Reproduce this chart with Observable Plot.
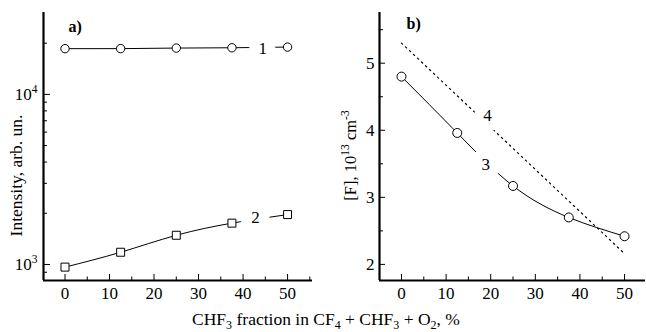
<!DOCTYPE html>
<html><head><meta charset="utf-8">
<script src="https://cdn.jsdelivr.net/npm/d3@7"></script>
<script src="https://cdn.jsdelivr.net/npm/@observablehq/plot@0.6"></script>
<style>
body{margin:0;background:#fff;}
#wrap{position:relative;width:646px;height:332px;font-family:"Liberation Serif",serif;color:#000;}
#wrap svg, #wrap svg text{font-family:"Liberation Serif",serif !important;font-variant-numeric:normal !important;}
#a{position:absolute;left:0;top:0}
#b{position:absolute;left:323px;top:0}
#cap{position:absolute;left:3px;top:311px;width:646px;text-align:center;font-size:17.5px;line-height:17px;white-space:nowrap;}
#cap sub{font-size:12px;vertical-align:-4px;line-height:0;}
</style></head>
<body><div id="wrap"><div id="a"></div><div id="b"></div>
<div id="cap">CHF<sub>3</sub> fraction in CF<sub>4</sub> + CHF<sub>3</sub> + O<sub>2</sub>, %</div></div>
<script>
// ---- data ----
const fraction = [0, 12.5, 25, 37.5, 50];
const intensity1 = [18570, 18580, 18720, 18800, 18970];
const intensity2 = [965, 1180, 1485, 1750, 1965];
const fluorine3 = [4.80, 3.96, 3.17, 2.70, 2.42];
const line4X = [0, 50];
const line4Y = [5.30, 2.16];

const xMajor = [0, 10, 20, 30, 40, 50];
const xMinor = [5, 15, 25, 35, 45, 55];
const yMajorA = [1000, 10000];
const yMajorALabels = ["10^{3}", "10^{4}"];
const yMinorA = [900, 2000, 3000, 4000, 5000, 6000, 7000, 8000, 9000, 20000];
const yMajorB = [2, 3, 4, 5];
const yMinorB = [2.5, 3.5, 4.5, 5.5];

const labelsA = [{t: "1", x: 44.4, y: 18650}, {t: "2", x: 42.8, y: 1888}];
const labelsB = [{t: "4", x: 19.3, y: 4.22}, {t: "3", x: 18.9, y: 3.49}];

const yTitleA = "Intensity, arb. un.";
const yTitleB = "[F], 10^{13} cm^{-3}";

const rows = (xs, ys) => xs.map((x, i) => ({x, y: ys[i]}));
const s1 = rows(fraction, intensity1);
const s2 = rows(fraction, intensity2);
const s3 = rows(fraction, fluorine3);
const s4 = rows(line4X, line4Y);

const xDomA = [-4.83, 55.6];
const yDomA = [805, 30300];
const xDomB = [-4.93, 54.7];
const yDomB = [1.76, 5.756];

const FONT = "Liberation Serif";
const style = {fontFamily: FONT, fontSize: "17px", background: "white", color: "black", overflow: "visible"};

function richify(svg) {
  svg.querySelectorAll("text").forEach(t => {
    const s = t.textContent;
    if (!/[\^_]\{/.test(s)) return;
    const parts = [];
    const re = /([\^_])\{([^}]*)\}/g;
    let last = 0, m;
    while ((m = re.exec(s))) {
      if (m.index > last) parts.push({k: "n", s: s.slice(last, m.index)});
      parts.push({k: m[1], s: m[2]});
      last = re.lastIndex;
    }
    if (last < s.length) parts.push({k: "n", s: s.slice(last)});
    while (t.firstChild) t.removeChild(t.firstChild);
    let cur = 0;
    for (const p of parts) {
      const ts = document.createElementNS("http://www.w3.org/2000/svg", "tspan");
      const target = p.k === "^" ? -7 : p.k === "_" ? 4 : 0;
      if (target !== cur) ts.setAttribute("dy", target - cur);
      cur = target;
      if (p.k !== "n") ts.setAttribute("font-size", "11.5");
      ts.textContent = p.s;
      t.appendChild(ts);
    }
  });
}

const tickOpts = {tickFormat: () => "", label: null};
const labOpts = {tickSize: 0, label: null, fontFamily: FONT, fontSize: 17, fontVariant: "normal"};

const plotA = Plot.plot({
  width: 323, height: 300,
  marginLeft: 43, marginRight: 11, marginTop: 12, marginBottom: 20,
  style,
  x: {domain: xDomA, label: null},
  y: {type: "log", domain: yDomA, label: null},
  marks: [
    Plot.line(s2, {x: "x", y: "y", curve: "natural", stroke: "black", strokeWidth: 1}),
    Plot.line(s1, {x: "x", y: "y", curve: "linear", stroke: "black", strokeWidth: 1}),
    Plot.text(labelsA, {x: "x", y: "y", text: "t", fill: "black", stroke: "white", strokeWidth: 22, fontSize: 17, fontFamily: FONT}),
    Plot.dot(s1, {x: "x", y: "y", r: 4.2, stroke: "black", fill: "white", strokeWidth: 1}),
    Plot.dot(s2, {x: "x", y: "y", r: 4.5, symbol: "square", stroke: "black", fill: "white", strokeWidth: 1}),
    Plot.ruleX([xDomA[0]], {stroke: "black", strokeWidth: 2.2}),
    Plot.ruleY([yDomA[0]], {stroke: "black", strokeWidth: 2.2}),
    Plot.axisX({ticks: xMajor, tickSize: -6, ...tickOpts}),
    Plot.axisX({ticks: xMinor, tickSize: -3.5, ...tickOpts}),
    Plot.axisX({ticks: xMajor, tickPadding: 6, tickFormat: d => String(d), ...labOpts}),
    Plot.axisY({ticks: yMajorA, tickSize: -7, ...tickOpts}),
    Plot.axisY({ticks: yMinorA, tickSize: -4, ...tickOpts}),
    Plot.axisY({ticks: yMajorA, tickPadding: 6, tickFormat: d => yMajorALabels[yMajorA.indexOf(d)], ...labOpts}),
    Plot.text([yTitleA], {frameAnchor: "left", dx: -27, dy: 29, rotate: -90, textAnchor: "middle", fontSize: 17.5, fontFamily: FONT}),
    Plot.text(["a)"], {frameAnchor: "top-left", lineAnchor: "middle", textAnchor: "start", dx: 25, dy: 14, fontWeight: "bold", fontSize: 16, fontFamily: FONT})
  ]
});
richify(plotA);
document.getElementById("a").appendChild(plotA);

const plotB = Plot.plot({
  width: 323, height: 300,
  marginLeft: 56, marginRight: 1, marginTop: 12, marginBottom: 20,
  style,
  x: {domain: xDomB, label: null},
  y: {domain: yDomB, label: null},
  marks: [
    Plot.line(s4, {x: "x", y: "y", stroke: "black", strokeWidth: 1.2, strokeDasharray: "1.5,4"}),
    Plot.line(s3, {x: "x", y: "y", curve: "natural", stroke: "black", strokeWidth: 1}),
    Plot.text(labelsB, {x: "x", y: "y", text: "t", fill: "black", stroke: "white", strokeWidth: 20, fontSize: 17, fontFamily: FONT}),
    Plot.dot(s3, {x: "x", y: "y", r: 4.5, stroke: "black", fill: "white", strokeWidth: 1}),
    Plot.ruleX([xDomB[0]], {stroke: "black", strokeWidth: 2.2}),
    Plot.ruleY([yDomB[0]], {stroke: "black", strokeWidth: 2.2}),
    Plot.axisX({ticks: xMajor, tickSize: -6, ...tickOpts}),
    Plot.axisX({ticks: xMinor, tickSize: -3.5, ...tickOpts}),
    Plot.axisX({ticks: xMajor, tickPadding: 6, tickFormat: d => String(d), ...labOpts}),
    Plot.axisY({ticks: yMajorB, tickSize: -6, ...tickOpts}),
    Plot.axisY({ticks: yMinorB, tickSize: -4, ...tickOpts}),
    Plot.axisY({ticks: yMajorB, tickPadding: 5, tickFormat: d => String(d), ...labOpts}),
    Plot.text([yTitleB], {frameAnchor: "left", dx: -29, dy: 9, rotate: -90, textAnchor: "middle", fontSize: 16.5, fontFamily: FONT}),
    Plot.text(["b)"], {frameAnchor: "top-left", lineAnchor: "middle", textAnchor: "start", dx: 27, dy: 11, fontWeight: "bold", fontSize: 16, fontFamily: FONT})
  ]
});
richify(plotB);
document.getElementById("b").appendChild(plotB);
</script></body></html>
